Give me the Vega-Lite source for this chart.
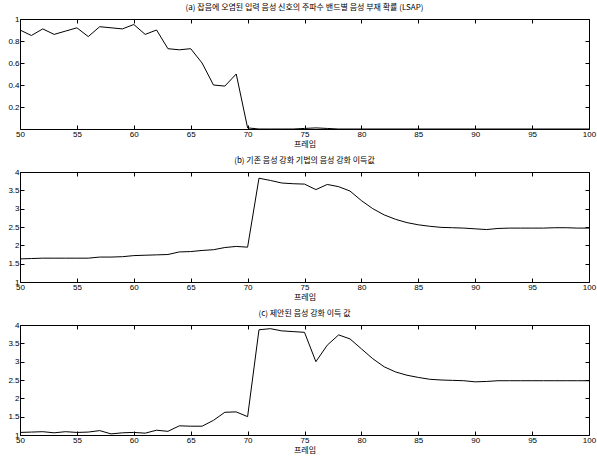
{
  "$schema": "https://vega.github.io/schema/vega-lite/v6.json",
  "background": "white",
  "padding": {"left": 7, "top": 3, "right": 0, "bottom": 0},
  "spacing": 43,
  "bounds": "flush",
  "config": {
    "font": "Noto Sans CJK KR",
    "view": {"stroke": "black", "strokeWidth": 1},
    "axis": {"grid": false, "domain": false, "tickSize": -4, "tickColor": "black", "labelColor": "black", "labelFontSize": 8, "labelFont": "Liberation Sans", "titleFontSize": 8, "titleFontWeight": "normal", "titleColor": "black", "labelPadding": 5, "titlePadding": 2, "labelFlush": false},
    "title": {"fontSize": 8, "fontWeight": "normal", "color": "black", "offset": 3},
    "line": {"color": "black", "strokeWidth": 1}
  },
  "datasets": {
    "a": [
      {"frame": 50, "v": 0.9}, {"frame": 51, "v": 0.85}, {"frame": 52, "v": 0.91}, {"frame": 53, "v": 0.86},
      {"frame": 54, "v": 0.89}, {"frame": 55, "v": 0.92}, {"frame": 56, "v": 0.84}, {"frame": 57, "v": 0.93},
      {"frame": 58, "v": 0.92}, {"frame": 59, "v": 0.91}, {"frame": 60, "v": 0.95}, {"frame": 61, "v": 0.86},
      {"frame": 62, "v": 0.9}, {"frame": 63, "v": 0.73}, {"frame": 64, "v": 0.72}, {"frame": 65, "v": 0.73},
      {"frame": 66, "v": 0.6}, {"frame": 67, "v": 0.4}, {"frame": 68, "v": 0.39}, {"frame": 69, "v": 0.5},
      {"frame": 70, "v": 0.01}, {"frame": 71, "v": 0.0}, {"frame": 72, "v": 0.0}, {"frame": 73, "v": 0.0},
      {"frame": 74, "v": 0.0}, {"frame": 75, "v": 0.005}, {"frame": 76, "v": 0.01}, {"frame": 77, "v": 0.005},
      {"frame": 78, "v": 0.0}, {"frame": 80, "v": 0.0}, {"frame": 85, "v": 0.0}, {"frame": 90, "v": 0.0},
      {"frame": 95, "v": 0.0}, {"frame": 100, "v": 0.0}
    ],
    "b": [
      {"frame": 50, "v": 1.63}, {"frame": 51, "v": 1.64}, {"frame": 52, "v": 1.65}, {"frame": 53, "v": 1.65},
      {"frame": 54, "v": 1.65}, {"frame": 55, "v": 1.65}, {"frame": 56, "v": 1.65}, {"frame": 57, "v": 1.68},
      {"frame": 58, "v": 1.68}, {"frame": 59, "v": 1.69}, {"frame": 60, "v": 1.72}, {"frame": 61, "v": 1.73},
      {"frame": 62, "v": 1.74}, {"frame": 63, "v": 1.75}, {"frame": 64, "v": 1.82}, {"frame": 65, "v": 1.83},
      {"frame": 66, "v": 1.86}, {"frame": 67, "v": 1.88}, {"frame": 68, "v": 1.94}, {"frame": 69, "v": 1.97},
      {"frame": 70, "v": 1.95}, {"frame": 71, "v": 3.83}, {"frame": 72, "v": 3.77}, {"frame": 73, "v": 3.7},
      {"frame": 74, "v": 3.68}, {"frame": 75, "v": 3.67}, {"frame": 76, "v": 3.52}, {"frame": 77, "v": 3.66},
      {"frame": 78, "v": 3.6}, {"frame": 79, "v": 3.48}, {"frame": 80, "v": 3.22}, {"frame": 81, "v": 3.0},
      {"frame": 82, "v": 2.83}, {"frame": 83, "v": 2.71}, {"frame": 84, "v": 2.62}, {"frame": 85, "v": 2.56},
      {"frame": 86, "v": 2.52}, {"frame": 87, "v": 2.49}, {"frame": 88, "v": 2.48}, {"frame": 89, "v": 2.47},
      {"frame": 90, "v": 2.45}, {"frame": 91, "v": 2.43}, {"frame": 92, "v": 2.46}, {"frame": 93, "v": 2.47},
      {"frame": 94, "v": 2.47}, {"frame": 95, "v": 2.47}, {"frame": 96, "v": 2.47}, {"frame": 97, "v": 2.48},
      {"frame": 98, "v": 2.48}, {"frame": 99, "v": 2.47}, {"frame": 100, "v": 2.47}
    ],
    "c": [
      {"frame": 50, "v": 1.07}, {"frame": 51, "v": 1.08}, {"frame": 52, "v": 1.09}, {"frame": 53, "v": 1.06},
      {"frame": 54, "v": 1.09}, {"frame": 55, "v": 1.07}, {"frame": 56, "v": 1.08}, {"frame": 57, "v": 1.12},
      {"frame": 58, "v": 1.03}, {"frame": 59, "v": 1.06}, {"frame": 60, "v": 1.07}, {"frame": 61, "v": 1.05},
      {"frame": 62, "v": 1.13}, {"frame": 63, "v": 1.1}, {"frame": 64, "v": 1.25}, {"frame": 65, "v": 1.24},
      {"frame": 66, "v": 1.24}, {"frame": 67, "v": 1.4}, {"frame": 68, "v": 1.62}, {"frame": 69, "v": 1.63},
      {"frame": 70, "v": 1.5}, {"frame": 71, "v": 3.87}, {"frame": 72, "v": 3.9}, {"frame": 73, "v": 3.84},
      {"frame": 74, "v": 3.82}, {"frame": 75, "v": 3.8}, {"frame": 76, "v": 3.0}, {"frame": 77, "v": 3.45},
      {"frame": 78, "v": 3.73}, {"frame": 79, "v": 3.62}, {"frame": 80, "v": 3.35}, {"frame": 81, "v": 3.08},
      {"frame": 82, "v": 2.86}, {"frame": 83, "v": 2.72}, {"frame": 84, "v": 2.63}, {"frame": 85, "v": 2.57},
      {"frame": 86, "v": 2.52}, {"frame": 87, "v": 2.5}, {"frame": 88, "v": 2.49}, {"frame": 89, "v": 2.48},
      {"frame": 90, "v": 2.45}, {"frame": 91, "v": 2.46}, {"frame": 92, "v": 2.48}, {"frame": 93, "v": 2.48},
      {"frame": 94, "v": 2.48}, {"frame": 95, "v": 2.48}, {"frame": 96, "v": 2.48}, {"frame": 97, "v": 2.48},
      {"frame": 98, "v": 2.48}, {"frame": 99, "v": 2.48}, {"frame": 100, "v": 2.48}
    ]
  },
  "vconcat": [
    {
      "width": 569, "height": 110,
      "title": "(a) 잡음에 오염된 입력 음성 신호의 주파수 밴드별 음성 부재 확률 (LSAP)",
      "data": {"name": "a"},
      "resolve": {"axis": {"x": "independent", "y": "independent"}},
      "layer": [
        {
          "mark": {"type": "line"},
          "encoding": {
            "x": {"field": "frame", "type": "quantitative", "title": "프레임", "scale": {"domain": [50, 100], "nice": false, "zero": false}, "axis": {"values": [50, 55, 60, 65, 70, 75, 80, 85, 90, 95, 100], "format": "d"}},
            "y": {"field": "v", "type": "quantitative", "title": null, "scale": {"domain": [0, 1], "nice": false}, "axis": {"values": [0.2, 0.4, 0.6, 0.8, 1], "format": "~g"}}
          }
        },
        {
          "mark": {"type": "line", "opacity": 0},
          "encoding": {
            "x": {"field": "frame", "type": "quantitative", "title": null, "scale": {"domain": [50, 100], "nice": false, "zero": false}, "axis": {"orient": "top", "labels": false, "values": [50, 55, 60, 65, 70, 75, 80, 85, 90, 95, 100]}},
            "y": {"field": "v", "type": "quantitative", "title": null, "scale": {"domain": [0, 1], "nice": false}, "axis": {"orient": "right", "labels": false, "values": [0.2, 0.4, 0.6, 0.8, 1]}}
          }
        }
      ]
    },
    {
      "width": 569, "height": 110,
      "title": "(b) 기존 음성 강화 기법의 음성 강화 이득값",
      "data": {"name": "b"},
      "resolve": {"axis": {"x": "independent", "y": "independent"}},
      "layer": [
        {
          "mark": {"type": "line"},
          "encoding": {
            "x": {"field": "frame", "type": "quantitative", "title": "프레임", "scale": {"domain": [50, 100], "nice": false, "zero": false}, "axis": {"values": [50, 55, 60, 65, 70, 75, 80, 85, 90, 95, 100], "format": "d"}},
            "y": {"field": "v", "type": "quantitative", "title": null, "scale": {"domain": [1, 4], "nice": false, "zero": false}, "axis": {"values": [1, 1.5, 2, 2.5, 3, 3.5, 4], "format": "~g"}}
          }
        },
        {
          "mark": {"type": "line", "opacity": 0},
          "encoding": {
            "x": {"field": "frame", "type": "quantitative", "title": null, "scale": {"domain": [50, 100], "nice": false, "zero": false}, "axis": {"orient": "top", "labels": false, "values": [50, 55, 60, 65, 70, 75, 80, 85, 90, 95, 100]}},
            "y": {"field": "v", "type": "quantitative", "title": null, "scale": {"domain": [1, 4], "nice": false, "zero": false}, "axis": {"orient": "right", "labels": false, "values": [1, 1.5, 2, 2.5, 3, 3.5, 4]}}
          }
        }
      ]
    },
    {
      "width": 569, "height": 110,
      "title": "(c) 제안된 음성 강화 이득 값",
      "data": {"name": "c"},
      "resolve": {"axis": {"x": "independent", "y": "independent"}},
      "layer": [
        {
          "mark": {"type": "line"},
          "encoding": {
            "x": {"field": "frame", "type": "quantitative", "title": "프레임", "scale": {"domain": [50, 100], "nice": false, "zero": false}, "axis": {"values": [50, 55, 60, 65, 70, 75, 80, 85, 90, 95, 100], "format": "d"}},
            "y": {"field": "v", "type": "quantitative", "title": null, "scale": {"domain": [1, 4], "nice": false, "zero": false}, "axis": {"values": [1, 1.5, 2, 2.5, 3, 3.5, 4], "format": "~g"}}
          }
        },
        {
          "mark": {"type": "line", "opacity": 0},
          "encoding": {
            "x": {"field": "frame", "type": "quantitative", "title": null, "scale": {"domain": [50, 100], "nice": false, "zero": false}, "axis": {"orient": "top", "labels": false, "values": [50, 55, 60, 65, 70, 75, 80, 85, 90, 95, 100]}},
            "y": {"field": "v", "type": "quantitative", "title": null, "scale": {"domain": [1, 4], "nice": false, "zero": false}, "axis": {"orient": "right", "labels": false, "values": [1, 1.5, 2, 2.5, 3, 3.5, 4]}}
          }
        }
      ]
    }
  ]
}
